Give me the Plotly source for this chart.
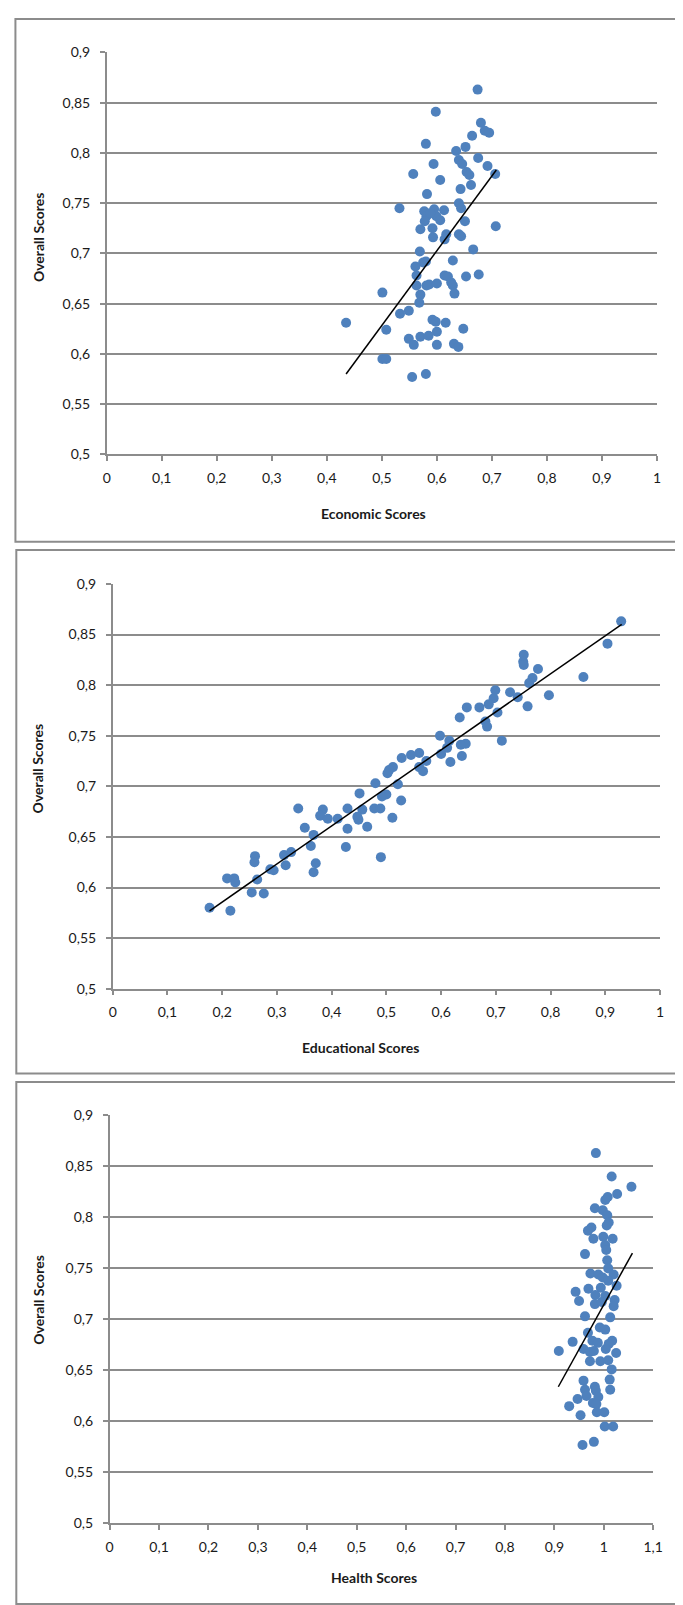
import plotly.graph_objects as go

# ---------------- data ----------------
econ_x = [0.674, 0.598, 0.680, 0.687, 0.695, 0.580, 0.664, 0.652, 0.635, 0.675, 0.640, 0.646, 0.594,
          0.692, 0.654, 0.659, 0.557, 0.706, 0.606, 0.662, 0.643, 0.582, 0.532, 0.640, 0.644, 0.577,
          0.595, 0.613, 0.581, 0.599, 0.578, 0.606, 0.651, 0.707, 0.570, 0.592, 0.617, 0.640, 0.644,
          0.593, 0.614, 0.666, 0.569, 0.629, 0.580, 0.575, 0.561, 0.563, 0.614, 0.620, 0.676, 0.653,
          0.626, 0.629, 0.586, 0.600, 0.563, 0.581, 0.501, 0.632, 0.570, 0.568, 0.549, 0.533, 0.592,
          0.598, 0.616, 0.435, 0.648, 0.508, 0.600, 0.549, 0.570, 0.585, 0.558, 0.600, 0.631, 0.639,
          0.501, 0.508, 0.580, 0.555, 0.588]
econ_y = [0.863, 0.841, 0.830, 0.822, 0.820, 0.809, 0.817, 0.806, 0.802, 0.795, 0.793, 0.789, 0.789,
          0.787, 0.781, 0.778, 0.779, 0.779, 0.773, 0.768, 0.764, 0.759, 0.745, 0.750, 0.745, 0.742,
          0.744, 0.743, 0.737, 0.737, 0.732, 0.733, 0.732, 0.727, 0.724, 0.725, 0.719, 0.719, 0.717,
          0.716, 0.714, 0.704, 0.702, 0.693, 0.692, 0.691, 0.687, 0.678, 0.678, 0.677, 0.679, 0.677,
          0.671, 0.668, 0.669, 0.670, 0.668, 0.668, 0.661, 0.660, 0.659, 0.651, 0.643, 0.640, 0.634,
          0.632, 0.631, 0.631, 0.625, 0.624, 0.622, 0.615, 0.617, 0.618, 0.609, 0.609, 0.610, 0.607,
          0.595, 0.595, 0.580, 0.577, 0.740]
econ_trend_x = [0.435, 0.708]
econ_trend_y = [0.580, 0.783]

edu_x = [0.929, 0.904, 0.751, 0.750, 0.751, 0.777, 0.767, 0.761, 0.860, 0.699, 0.726, 0.740, 0.797,
         0.696, 0.687, 0.758, 0.647, 0.670, 0.703, 0.634, 0.681, 0.684, 0.598, 0.711, 0.615, 0.645,
         0.636, 0.611, 0.600, 0.638, 0.545, 0.560, 0.617, 0.528, 0.573, 0.560, 0.567, 0.512, 0.505,
         0.502, 0.480, 0.521, 0.451, 0.500, 0.492, 0.527, 0.339, 0.384, 0.429, 0.456, 0.478, 0.489,
         0.379, 0.393, 0.411, 0.447, 0.449, 0.511, 0.351, 0.429, 0.465, 0.367, 0.362, 0.426, 0.260,
         0.259, 0.313, 0.326, 0.490, 0.316, 0.371, 0.367, 0.288, 0.294, 0.209, 0.222, 0.224, 0.264,
         0.254, 0.276, 0.177, 0.215]
edu_y = [0.863, 0.841, 0.830, 0.823, 0.820, 0.816, 0.807, 0.802, 0.808, 0.795, 0.793, 0.788, 0.790,
         0.787, 0.781, 0.779, 0.778, 0.778, 0.773, 0.768, 0.764, 0.759, 0.750, 0.745, 0.745, 0.742,
         0.741, 0.738, 0.732, 0.730, 0.731, 0.733, 0.724, 0.728, 0.725, 0.719, 0.715, 0.719, 0.716,
         0.713, 0.703, 0.702, 0.693, 0.692, 0.690, 0.686, 0.678, 0.677, 0.678, 0.677, 0.678, 0.678,
         0.671, 0.668, 0.668, 0.670, 0.667, 0.669, 0.659, 0.658, 0.660, 0.652, 0.641, 0.640, 0.631,
         0.625, 0.632, 0.635, 0.630, 0.622, 0.624, 0.615, 0.618, 0.617, 0.609, 0.609, 0.605, 0.608,
         0.595, 0.594, 0.580, 0.577]
edu_trend_x = [0.177, 0.930]
edu_trend_y = [0.577, 0.860]

health_x = [0.984, 1.016, 1.056, 1.027, 1.008, 1.003, 0.982, 0.998, 1.007, 1.010, 1.006, 0.975, 0.968,
            0.999, 1.018, 0.979, 1.003, 1.005, 0.962, 1.007, 1.009, 0.973, 0.989, 1.020, 0.998, 1.009,
            1.026, 0.994, 0.969, 0.943, 0.983, 1.003, 0.950, 1.022, 0.982, 0.996, 1.020, 0.962, 1.013,
            0.992, 1.003, 0.968, 0.937, 0.977, 0.988, 1.017, 1.010, 0.909, 0.959, 0.972, 0.980, 1.004,
            1.025, 0.972, 0.993, 1.009, 1.016, 0.959, 1.012, 0.982, 0.984, 0.962, 1.013, 0.965, 0.989,
            0.947, 0.930, 0.978, 0.985, 0.986, 1.001, 0.953, 1.002, 1.019, 0.980, 0.957]
health_y = [0.863, 0.840, 0.830, 0.823, 0.820, 0.817, 0.809, 0.807, 0.802, 0.795, 0.792, 0.790, 0.787,
            0.781, 0.779, 0.779, 0.773, 0.768, 0.764, 0.758, 0.750, 0.745, 0.744, 0.744, 0.741, 0.738,
            0.733, 0.731, 0.730, 0.727, 0.724, 0.723, 0.718, 0.719, 0.715, 0.717, 0.713, 0.703, 0.702,
            0.692, 0.690, 0.687, 0.678, 0.679, 0.677, 0.679, 0.676, 0.669, 0.671, 0.668, 0.669, 0.671,
            0.667, 0.659, 0.659, 0.660, 0.651, 0.640, 0.641, 0.634, 0.630, 0.631, 0.631, 0.625, 0.624,
            0.622, 0.615, 0.618, 0.617, 0.609, 0.609, 0.606, 0.595, 0.595, 0.580, 0.577]
health_trend_x = [0.908, 1.058]
health_trend_y = [0.634, 0.765]

y_tick_vals = [0.5, 0.55, 0.6, 0.65, 0.7, 0.75, 0.8, 0.85, 0.9]
y_tick_text = ["0,5", "0,55", "0,6", "0,65", "0,7", "0,75", "0,8", "0,85", "0,9"]
x_tick_vals = [0, 0.1, 0.2, 0.3, 0.4, 0.5, 0.6, 0.7, 0.8, 0.9, 1.0]
x_tick_text = ["0", "0,1", "0,2", "0,3", "0,4", "0,5", "0,6", "0,7", "0,8", "0,9", "1"]
x3_tick_vals = [0, 0.1, 0.2, 0.3, 0.4, 0.5, 0.6, 0.7, 0.8, 0.9, 1.0, 1.1]
x3_tick_text = ["0", "0,1", "0,2", "0,3", "0,4", "0,5", "0,6", "0,7", "0,8", "0,9", "1", "1,1"]

x_titles = ["Economic Scores", "Educational Scores", "Health Scores"]
y_title = "Overall Scores"

# ---------------- layout geometry (pixels) ----------------
W, H = 683, 1605
plots = [  # x0, x1, ytop, ybottom
    (96.7, 658.5, 35.8, 442.1),
    (102.8, 661.6, 573.0, 982.1),
    (99.7, 654.6, 1110.1, 1522.6),
]
boxes = [(3.5, 2.0, 530.3), (4.4, 538.6, 1067.9), (4.4, 1076.4, 1604.0)]
ytitle_pos = [(27, 222), (27, 759), (27, 1296)]
xtitle_pos = [(369, 502), (356, 1042), (370, 1577)]

MARKER = "#4F81BD"
GRID = "#8C8C8C"
FONT = "Lato"
TXT = "#1a1a1a"

fig = go.Figure()
series = [(econ_x, econ_y, econ_trend_x, econ_trend_y),
          (edu_x, edu_y, edu_trend_x, edu_trend_y),
          (health_x, health_y, health_trend_x, health_trend_y)]
for i, (sx, sy, tx, ty) in enumerate(series):
    xa = "x" if i == 0 else f"x{i+1}"
    ya = "y" if i == 0 else f"y{i+1}"
    fig.add_trace(go.Scatter(x=sx, y=sy, mode="markers", xaxis=xa, yaxis=ya,
                             marker=dict(color=MARKER, size=10, line=dict(width=0)),
                             showlegend=False, cliponaxis=False))
    fig.add_trace(go.Scatter(x=tx, y=ty, mode="lines", xaxis=xa, yaxis=ya,
                             line=dict(color="black", width=1.5), showlegend=False))

layout = dict(width=W, height=H, autosize=False,
              margin=dict(l=0, r=0, t=0, b=0),
              paper_bgcolor="white", plot_bgcolor="white",
              font=dict(family=FONT, size=14, color=TXT),
              shapes=[], annotations=[])

for i, (x0, x1, yt, yb) in enumerate(plots):
    sfx = "" if i == 0 else str(i + 1)
    xr = [0, 1.1] if i == 2 else [0, 1]
    tv = x3_tick_vals if i == 2 else x_tick_vals
    tt = x3_tick_text if i == 2 else x_tick_text
    layout["xaxis" + sfx] = dict(
        domain=[x0 / W, x1 / W], range=xr, anchor="y" + sfx,
        tickvals=tv, ticktext=tt, showgrid=False, zeroline=False,
        showline=True, linecolor=GRID, linewidth=1.5,
        ticks="outside", ticklen=5, tickcolor=GRID, tickwidth=1.5,
        ticklabelstandoff=5, tickfont=dict(family=FONT, size=14, color=TXT),
        fixedrange=True)
    layout["yaxis" + sfx] = dict(
        domain=[1 - yb / H, 1 - yt / H], range=[0.5, 0.9], anchor="x" + sfx,
        tickvals=y_tick_vals, ticktext=y_tick_text, showgrid=True,
        gridcolor=GRID, gridwidth=1.5, zeroline=False,
        showline=True, linecolor=GRID, linewidth=1.5,
        ticks="outside", ticklen=5, tickcolor=GRID, tickwidth=1.5,
        ticklabelstandoff=7, tickfont=dict(family=FONT, size=14, color=TXT),
        fixedrange=True)
    bx, by0, by1 = boxes[i]
    layout["shapes"].append(dict(type="rect", xref="paper", yref="paper",
                                 x0=bx / W, x1=1.05, y0=1 - by1 / H, y1=1 - by0 / H,
                                 line=dict(color="#8C8C8C", width=2), layer="below"))
    ax, ay = ytitle_pos[i]
    layout["annotations"].append(dict(text="<b>" + y_title + "</b>", xref="paper", yref="paper",
                                      x=ax / W, y=1 - ay / H, xanchor="center", yanchor="middle",
                                      textangle=-90, showarrow=False,
                                      font=dict(family=FONT, size=14, color=TXT)))
    tx_, ty_ = xtitle_pos[i]
    layout["annotations"].append(dict(text="<b>" + x_titles[i] + "</b>", xref="paper", yref="paper",
                                      x=tx_ / W, y=1 - ty_ / H, xanchor="center", yanchor="middle",
                                      showarrow=False,
                                      font=dict(family=FONT, size=14, color=TXT)))

fig.update_layout(**layout)
fig.write_html("out.html")
